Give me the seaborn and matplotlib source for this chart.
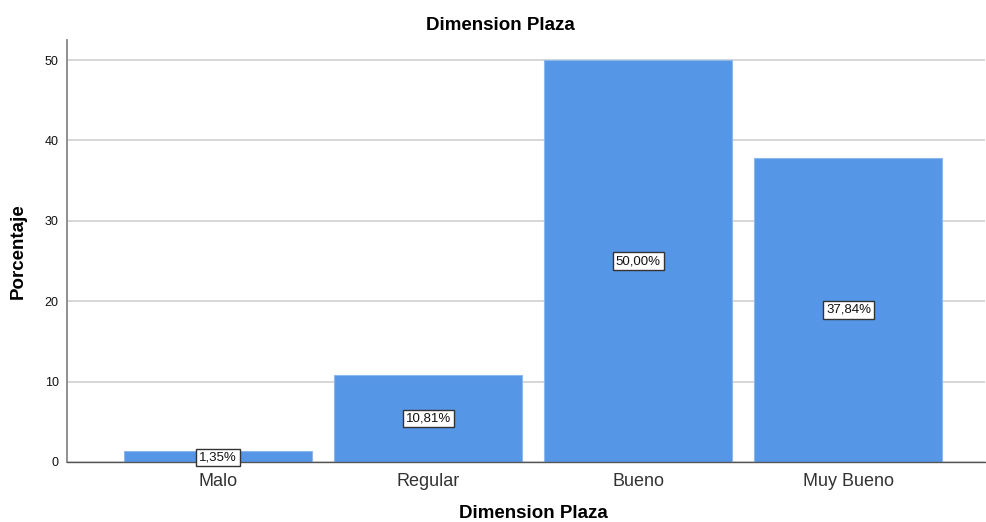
import matplotlib
matplotlib.use("Agg")
import matplotlib.pyplot as plt
import seaborn as sns
import pandas as pd

categories = ["Malo", "Regular", "Bueno", "Muy Bueno"]
values = [1.35, 10.81, 50.00, 37.84]
labels = ["1,35%", "10,81%", "50,00%", "37,84%"]
yticks = [0, 10, 20, 30, 40, 50]

sns.set_theme(style="white")
plt.rcParams['font.family'] = ['Liberation Sans', 'DejaVu Sans']

df = pd.DataFrame({"cat": categories, "val": values})

fig = plt.figure(figsize=(9.87, 5.22), dpi=100)
ax = fig.add_axes([67/987, 1-462/522, (985-67)/987, (462-40)/522])

sns.barplot(data=df, x="cat", y="val", color="#5596E6", saturation=1,
            width=0.895, edgecolor="#8DB8EE", linewidth=0.8, ax=ax, zorder=2)

ax.set_xlim(-0.72, 3.65)
ax.set_ylim(0, 52.5)
ax.set_yticks(yticks)
ax.yaxis.grid(True, color="#D0D0D0", linewidth=1.2, zorder=0)
ax.set_axisbelow(True)

for i, (v, lab) in enumerate(zip(values, labels)):
    ax.text(i, v/2 if v > 5 else 0.55, lab, ha="center", va="center", fontsize=9.5,
            color="#111111", zorder=5,
            bbox=dict(boxstyle="square,pad=0.22", facecolor="white", edgecolor="#333333", linewidth=1.0))

for s in ["top", "right"]:
    ax.spines[s].set_visible(False)
ax.spines["left"].set_color("#888888")
ax.spines["left"].set_linewidth(1.3)
ax.spines["bottom"].set_color("#555555")
ax.spines["bottom"].set_linewidth(1.0)

ax.tick_params(axis="y", labelsize=9, length=3, color="#888888", pad=3, colors="#111111")
ax.tick_params(axis="x", labelsize=13, length=0, pad=8, colors="#333333")

fig.text(500/987, 1-26/522, "Dimension Plaza", fontsize=13.5, fontweight="bold",
         color="black", ha="center", va="center")
fig.text(533/987, 1-514/522, "Dimension Plaza", fontsize=13.5, fontweight="bold",
         color="black", ha="center", va="center")
fig.text(18/987, 1-251/522, "Porcentaje", fontsize=13.5, fontweight="bold",
         color="black", ha="center", va="center", rotation=90)
ax.set_xlabel("")
ax.set_ylabel("")

fig.savefig("out.png", dpi=100)
